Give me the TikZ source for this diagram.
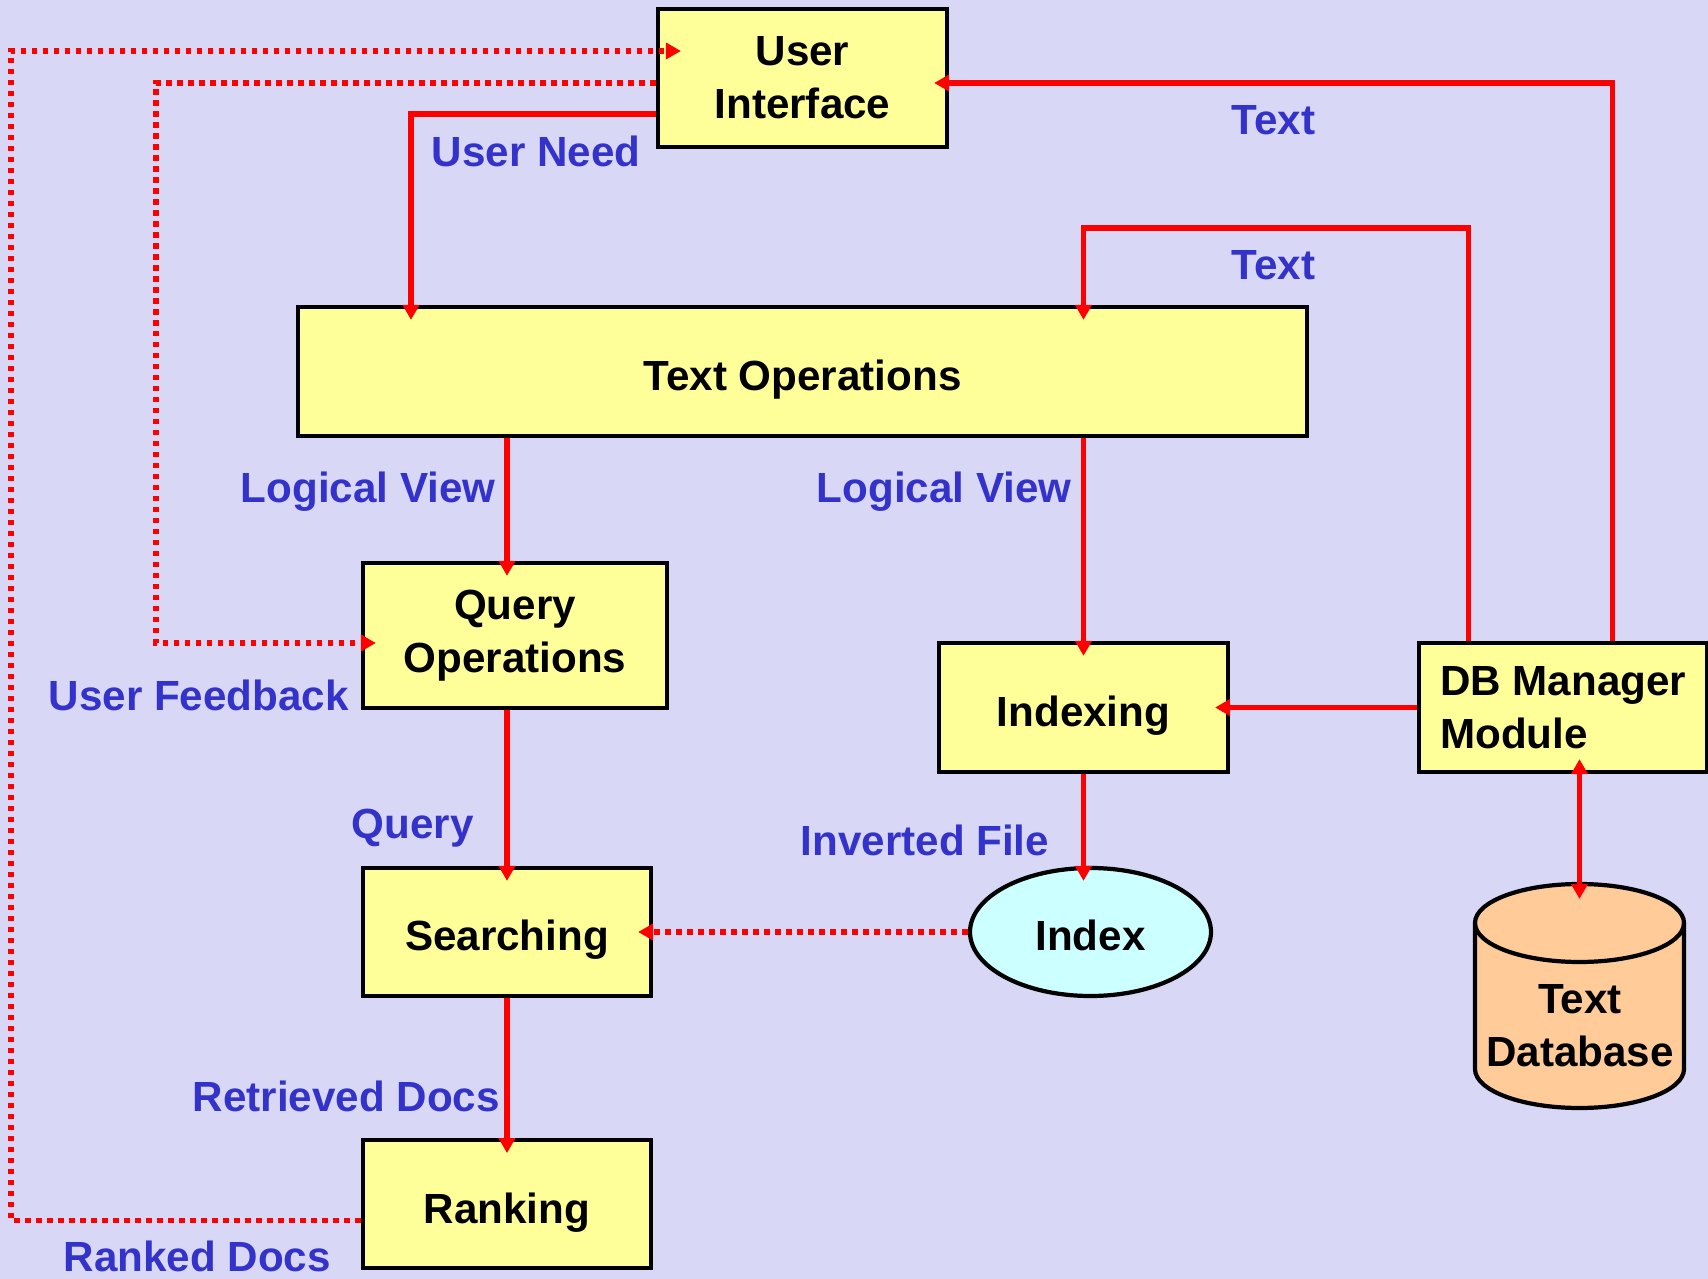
\documentclass[tikz,border=0pt]{standalone}
\usepackage{fontspec}
\setmainfont{Liberation Sans}
\usepackage{tikz}
\usetikzlibrary{shapes.geometric, arrows.meta, positioning}

\definecolor{bglilac}{RGB}{216,216,246}
\definecolor{boxyellow}{RGB}{255,255,153}
\definecolor{indexcyan}{RGB}{204,255,255}
\definecolor{dbpeach}{RGB}{255,204,153}
\definecolor{lblblue}{RGB}{51,51,204}

\begin{document}
\begin{tikzpicture}[
    >={Triangle[length=0.15cm, width=0.16cm]},
    box/.style={rectangle, draw=black, fill=boxyellow, line width=1.2pt, inner sep=0pt, align=center, font=\fontsize{12}{15}\selectfont\bfseries},
    oneline/.style={text height=13.8pt, text depth=3pt},
    flow/.style={->, red, line width=1.5pt, shorten >=-0.15cm},
    feedback/.style={flow, dash pattern=on 0.055cm off 0.055cm},
    lbl/.style={anchor=base west, inner sep=0pt, text=lblblue, font=\fontsize{12}{15}\selectfont\bfseries}
]

% page background
\fill[bglilac] (0,0) rectangle (17.08,-12.79);
\useasboundingbox (0,0) rectangle (17.08,-12.79);

\node[box, minimum width=2.89cm, minimum height=1.38cm] (ui) at (8.025,-0.78) {User\\Interface};
\node[box, oneline, minimum width=10.09cm, minimum height=1.29cm] (textops) at (8.025,-3.715) {Text Operations};
\node[box, minimum width=3.04cm, minimum height=1.45cm] (query) at (5.15,-6.355) {Query\\Operations};
\node[box, oneline, minimum width=2.88cm, minimum height=1.28cm] (searching) at (5.07,-9.32) {Searching};
\node[box, oneline, minimum width=2.88cm, minimum height=1.28cm, below=1.40cm of searching] (ranking) {Ranking};
\node[box, oneline, minimum width=2.89cm, minimum height=1.29cm] (indexing) at (10.835,-7.075) {Indexing};
\node[box, right=1.87cm of indexing, minimum width=2.88cm, minimum height=1.29cm, align=left] (dbm) {DB Manager\\Module};

\node[ellipse, oneline, draw=black, fill=indexcyan, line width=1.2pt, minimum width=2.41cm, minimum height=1.28cm, inner sep=0pt, font=\fontsize{12}{15}\selectfont\bfseries] (index) at (10.905,-9.32) {Index};

% text database drum
\coordinate (dbc) at (15.795,-9.96);
\coordinate (dbtop) at (15.795,-8.84);
\filldraw[fill=dbpeach, draw=black, line width=1.2pt]
    ([shift={(-1.045,0.73)}]dbc) -- ([shift={(-1.045,-0.73)}]dbc)
    arc[start angle=180, end angle=360, x radius=1.045cm, y radius=0.39cm]
    -- ([shift={(1.045,0.73)}]dbc)
    arc[start angle=0, end angle=180, x radius=1.045cm, y radius=0.39cm] -- cycle;
\draw[line width=1.2pt] ([shift={(-1.045,0.73)}]dbc)
    arc[start angle=180, end angle=360, x radius=1.045cm, y radius=0.39cm];
\node[align=center, inner sep=0pt, font=\fontsize{12}{15}\selectfont\bfseries] (db) at (15.8,-10.26) {Text\\Database};

% main flow
\draw[flow] ([yshift=-0.36cm]ui.west) -| (4.11,0 |- textops.north);
\draw[flow] (searching |- textops.south) -- (searching |- query.north);
\draw[flow] (indexing |- textops.south) -- (indexing.north);
\draw[flow] (searching |- query.south) -- (searching.north);
\draw[flow] (indexing.south) -- (indexing |- index.north);
\draw[flow] (searching.south) -- (ranking.north);
\draw[flow] (dbm.west) -- (indexing.east);
\draw[flow, <->, shorten <=-0.15cm] (dbtop |- dbm.south) -- (dbtop);

% text from the DB manager
\draw[flow] ([xshift=0.49cm]dbm.north) |- ([yshift=-0.05cm]ui.east);
\draw[flow] ([xshift=-0.95cm]dbm.north) |- (indexing |- 0,-2.28) -- (indexing |- textops.north);

% dotted paths
\draw[feedback] (index.west) -- (searching.east);
\draw[feedback, shorten >=-0.25cm] ([yshift=-0.16cm]ranking.west) -| (0.11,-0.51) -- ([yshift=0.27cm]ui.west);
\draw[feedback] ([yshift=-0.05cm]ui.west) -| (1.56,-6.43) -- ([yshift=-0.075cm]query.west);

% labels
\node[lbl] (lneed) at (4.31,-1.67) {User Need};
\node[lbl] (ltext1) at (12.31,-1.35) {Text};
\node[lbl] (ltext2) at (12.31,-2.80) {Text};
\node[lbl] (lview1) at (2.40,-5.03) {Logical View};
\node[lbl] (lview2) at (8.16,-5.03) {Logical View};
\node[lbl] (lfeed) at (0.48,-7.10) {User Feedback};
\node[lbl] (lquery) at (3.51,-8.38) {Query};
\node[lbl] (linv) at (8.00,-8.55) {Inverted File};
\node[lbl] (lret) at (1.92,-11.11) {Retrieved Docs};
\node[lbl] (lrank) at (0.63,-12.71) {Ranked Docs};

\end{tikzpicture}
\end{document}
